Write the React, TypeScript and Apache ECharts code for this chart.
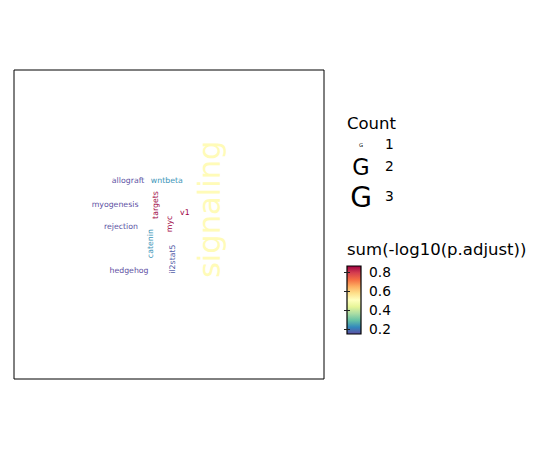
import React, { useEffect, useRef } from "react";
import * as echarts from "echarts";

// ---- data ----
const words = ["allograft", "wntbeta", "myogenesis", "rejection", "hedgehog", "targets", "myc", "v1", "catenin", "il2stat5", "signaling"];
// word-cloud layout coordinates (0-100 panel units)
const layoutX = [36.8, 49.3, 32.6, 34.5, 37.1, 45.5, 50.2, 55.1, 44.0, 51.0, 63.0];
const layoutY = [64.1, 64.1, 56.4, 49.2, 35.1, 56.3, 50.2, 53.8, 43.8, 38.8, 54.9];
const counts = [1, 1, 1, 1, 1, 1, 1, 1, 1, 1, 3];
const values = [0.152, 0.235, 0.150, 0.152, 0.148, 0.862, 0.862, 0.862, 0.235, 0.165, 0.515];
const rotated = [0, 0, 0, 0, 0, 1, 1, 0, 1, 1, 1];
const colorTicks = [0.2, 0.4, 0.6, 0.8];
const countLevels = [1, 2, 3];

// ---- styles ----
const FONT = "DejaVu Sans";
const spectral = ["#5E4FA2", "#3288BD", "#66C2A5", "#ABDDA4", "#E6F598", "#FFFFBF", "#FEE08B", "#FDAE61", "#F46D43", "#D53E4F", "#9E0142"];
const wordSize: Record<number, number> = { 1: 7.8, 2: 22, 3: 30.5 };
const legendGSize: Record<number, number> = { 1: 5.2, 2: 22.4, 3: 28 };
const legendGY: Record<number, number> = { 1: 145, 2: 167, 3: 197 };

export default function App() {
  const ref = useRef<HTMLDivElement>(null);
  useEffect(() => {
    if (!ref.current) return;
    const chart = echarts.init(ref.current, undefined, { renderer: "svg" });
    const vmin = Math.min(...values);
    const vmax = Math.max(...values);
    const wordData = words.map((w, i) => [layoutX[i], layoutY[i], values[i], counts[i], rotated[i]]);
    const gradStops = spectral
      .slice()
      .reverse()
      .map((c, i) => ({ offset: i / (spectral.length - 1), color: c }));

    const legendGraphics: any[] = [
      {
        type: "text",
        left: 347,
        top: 115,
        style: { text: "Count", fontFamily: FONT, fontSize: 16.5, fill: "#000" },
      },
      {
        type: "text",
        left: 347,
        top: 241,
        style: { text: "sum(-log10(p.adjust))", fontFamily: FONT, fontSize: 16.5, fill: "#000" },
      },
    ];
    countLevels.forEach((c) => {
      legendGraphics.push({
        type: "text",
        x: 361,
        y: legendGY[c],
        style: { text: "G", fontFamily: FONT, fontSize: legendGSize[c], fill: "#000", align: "center", verticalAlign: "middle" },
      });
      legendGraphics.push({
        type: "text",
        x: 385,
        y: legendGY[c] - 1,
        style: { text: String(c), fontFamily: FONT, fontSize: 13.8, fill: "#000", align: "left", verticalAlign: "middle" },
      });
    });

    chart.setOption({
      animation: false,
      backgroundColor: "#fff",
      textStyle: { fontFamily: FONT },
      grid: [
        { left: 14, top: 70, width: 310, height: 309, show: true, borderColor: "#000", borderWidth: 1, backgroundColor: "transparent" },
        { left: 347, top: 266, width: 14, height: 68 },
      ],
      xAxis: [
        { gridIndex: 0, type: "value", min: 0, max: 100, show: false },
        { gridIndex: 1, type: "value", min: 0, max: 1, show: false },
      ],
      yAxis: [
        { gridIndex: 0, type: "value", min: 0, max: 100, show: false },
        {
          gridIndex: 1,
          type: "value",
          min: vmin,
          max: 0.862,
          position: "right",
          z: 10,
          axisLine: { show: false },
          splitLine: { show: false },
          axisTick: { show: true, inside: true, length: 3, customValues: colorTicks, lineStyle: { color: "#222", width: 1 } },
          axisLabel: { customValues: colorTicks, fontFamily: FONT, fontSize: 13.8, color: "#000", margin: 8, formatter: (v: number) => v.toFixed(1) },
        },
        {
          gridIndex: 1,
          type: "value",
          min: vmin,
          max: vmax,
          position: "left",
          z: 10,
          axisLine: { show: false },
          splitLine: { show: false },
          axisLabel: { show: false },
          axisTick: { show: true, inside: true, length: 3, customValues: colorTicks, lineStyle: { color: "#222", width: 1 } },
        },
      ],
      visualMap: {
        show: false,
        type: "continuous",
        min: vmin,
        max: vmax,
        dimension: 2,
        seriesIndex: 0,
        inRange: { color: spectral },
      },
      series: [
        {
          type: "custom",
          coordinateSystem: "cartesian2d",
          xAxisIndex: 0,
          yAxisIndex: 0,
          data: wordData,
          renderItem: (params: any, api: any) => {
            const i = params.dataIndex;
            const pt = api.coord([api.value(0), api.value(1)]);
            const cnt = api.value(3);
            return {
              type: "text",
              x: pt[0],
              y: pt[1],
              rotation: api.value(4) ? Math.PI / 2 : 0,
              style: {
                text: words[i],
                fontFamily: FONT,
                fontSize: wordSize[cnt],
                fill: api.visual("color"),
                align: "center",
                verticalAlign: "middle",
              },
            };
          },
        },
        {
          type: "custom",
          coordinateSystem: "cartesian2d",
          xAxisIndex: 1,
          yAxisIndex: 1,
          z: 1,
          data: [[0, vmin, vmax]],
          renderItem: (params: any, api: any) => {
            const p1 = api.coord([0, api.value(2)]);
            const p2 = api.coord([1, api.value(1)]);
            return {
              type: "rect",
              shape: { x: p1[0], y: p1[1], width: p2[0] - p1[0], height: p2[1] - p1[1] },
              style: {
                fill: new echarts.graphic.LinearGradient(0, 0, 0, 1, gradStops),
                stroke: "#000",
                lineWidth: 1.2,
              },
            };
          },
        },
      ],
      graphic: legendGraphics,
    });
    return () => chart.dispose();
  }, []);
  return <div ref={ref} style={{ position: "fixed", left: 0, top: 0, width: 550, height: 450 }} />;
}
